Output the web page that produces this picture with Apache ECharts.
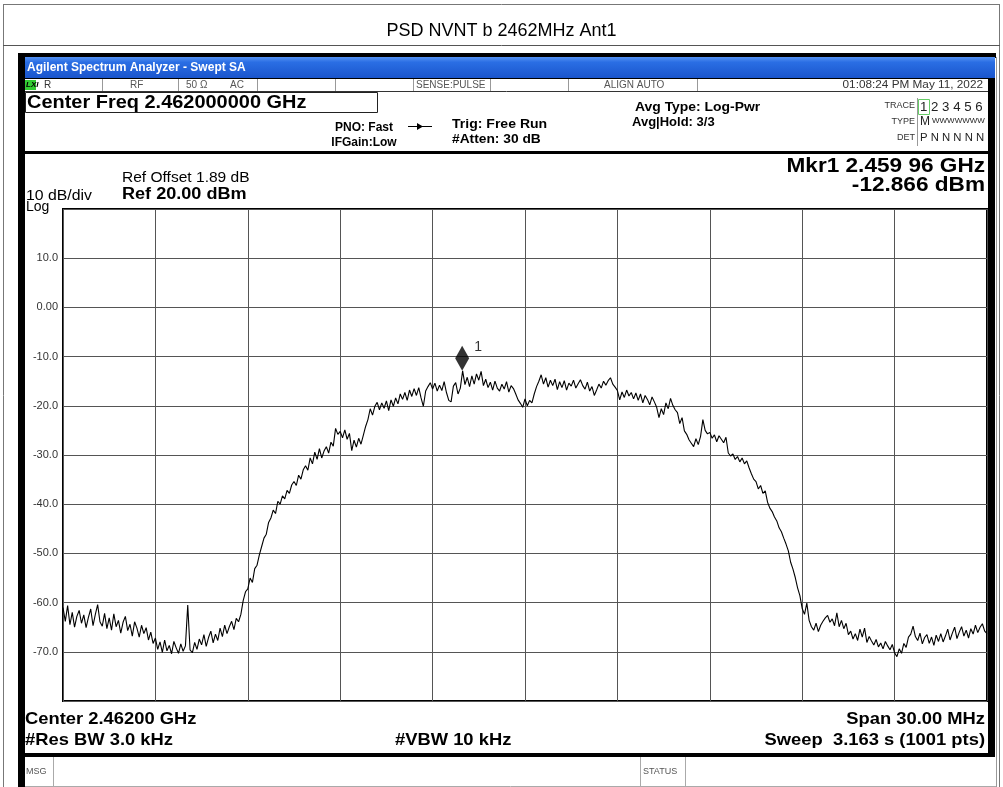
<!DOCTYPE html>
<html>
<head>
<meta charset="utf-8">
<title>PSD NVNT b 2462MHz Ant1</title>
<script src="https://cdn.jsdelivr.net/npm/echarts@6/dist/echarts.min.js"></script>
<style>
  html, body { margin: 0; padding: 0; background: #fff; }
  #chart { width: 1003px; height: 787px; }
</style>
</head>
<body>
<div id="chart"></div>
<script>
// sweep settings
const centerMHz = 2462
const spanMHz = 30
const stepMHz = 0.075   // 401 samples over the 30 MHz span

// y grid: ref level 20 dBm, 10 dB/div
const yTickValues = [20, 10, 0, -10, -20, -30, -40, -50, -60, -70, -80]
const yTickLabels = ['', '10.0', '0.00', '-10.0', '-20.0', '-30.0', '-40.0', '-50.0', '-60.0', '-70.0', '']

// trace 1 (dBm), left to right, 20 samples per row
const level = [
  -61.0, -63.8, -60.6, -64.5, -62.0, -65.0, -62.8, -61.6, -64.2, -62.5, -65.1, -63.0, -61.3, -64.7, -62.4, -60.4, -63.9, -64.8, -62.2, -65.3,
  -63.1, -65.6, -62.3, -64.9, -63.6, -66.2, -64.0, -62.8, -65.7, -64.4, -66.8, -63.9, -65.2, -67.0, -64.6, -66.3, -65.1, -67.6, -66.0, -68.3,
  -67.2, -69.5, -68.0, -70.1, -67.6, -69.8, -68.7, -70.4, -67.9, -69.2, -70.3, -68.4, -69.9, -68.8, -60.5, -69.6, -70.2, -68.1, -69.5, -67.4,
  -68.6, -66.5, -68.9, -67.1, -65.8, -68.2, -66.4, -67.7, -65.2, -66.9, -64.6, -66.3, -64.9, -63.8, -65.5, -63.2, -63.9, -62.4, -59.6, -57.8,
  -57.2, -55.0, -55.9, -53.1, -52.4, -50.3, -48.6, -46.9, -46.1, -43.7, -42.8, -41.2, -41.9, -39.4, -40.0, -38.3, -38.9, -37.2, -37.8, -36.1,
  -35.4, -36.2, -34.1, -34.9, -33.0, -32.2, -33.1, -30.6, -31.8, -29.4, -30.9, -28.7, -30.6, -29.2, -28.3, -29.6, -27.4, -28.2, -24.6, -25.8,
  -25.2, -26.5, -24.9, -26.8, -25.6, -29.1, -27.0, -28.4, -26.6, -27.8, -26.0, -24.2, -22.8, -20.6, -21.9, -20.1, -19.3, -20.8, -19.4, -20.5,
  -19.0, -21.0, -18.8, -20.1, -18.4, -19.6, -17.6, -18.7, -17.3, -18.9, -16.8, -18.1, -16.5, -17.9, -16.3, -18.4, -20.1, -17.0, -16.1, -15.3,
  -16.6, -15.4, -17.0, -15.8, -16.9, -15.1, -17.3, -18.9, -19.2, -16.0, -15.3, -17.6, -16.4, -12.9, -15.7, -14.2, -16.1, -13.9, -15.6, -13.5,
  -14.8, -13.0, -15.9, -14.6, -16.3, -15.2, -16.8, -15.0, -16.4, -17.0, -15.6, -16.6, -15.1, -17.2, -15.9, -16.5, -17.6, -18.8, -19.5, -20.3,
  -18.6, -20.0, -18.9, -19.4, -17.6, -16.1, -15.0, -13.7, -15.6, -14.3, -16.2, -14.8, -15.9, -14.6, -16.7, -15.1, -16.3, -14.9, -16.8, -15.4,
  -16.0, -14.8, -16.4, -15.5, -14.7, -15.9, -16.6, -15.2, -17.0, -16.1, -17.9, -16.8, -15.6, -16.4, -15.0, -15.8, -14.9, -14.3, -15.6, -16.2,
  -16.9, -18.8, -17.2, -18.3, -16.8, -18.0, -17.3, -18.6, -17.4, -18.9, -17.6, -19.4, -17.9, -18.7, -19.8, -18.2, -19.2, -20.3, -22.4, -20.6,
  -21.8, -19.4, -20.6, -18.5, -19.9, -20.8, -21.4, -23.6, -22.4, -25.1, -25.8, -26.9, -27.6, -28.3, -26.7, -27.9, -26.2, -22.8, -25.0, -25.7,
  -25.4, -26.6, -25.9, -27.3, -26.1, -26.8, -27.5, -26.4, -29.6, -30.2, -29.8, -30.9, -30.3, -31.4, -30.6, -31.8, -31.2, -32.6, -33.8, -34.9,
  -35.4, -36.9, -36.2, -37.8, -37.3, -39.6, -40.8, -41.5, -42.6, -43.4, -44.8, -45.6, -46.9, -48.1, -49.5, -51.8, -53.2, -54.9, -57.0, -58.6,
  -61.2, -62.4, -60.1, -63.6, -64.9, -65.6, -64.2, -65.9, -64.6, -63.8, -63.1, -62.6, -64.0, -63.3, -64.7, -62.1, -64.9, -63.6, -65.3, -64.2,
  -66.5, -65.8, -67.4, -66.3, -67.7, -65.4, -67.0, -65.2, -68.1, -66.9, -67.8, -68.6, -67.5, -69.0, -68.2, -69.4, -67.9, -68.8, -69.6, -68.5,
  -70.2, -71.0, -69.4, -70.3, -68.3, -69.1, -67.0, -66.4, -64.8, -66.9, -67.7, -66.2, -68.4, -67.1, -66.5, -68.3, -67.0, -68.7, -66.6, -67.9,
  -66.3, -68.0, -66.8, -65.4, -67.6, -66.2, -65.0, -67.3, -66.0, -64.9, -66.8, -65.6, -67.2, -65.3, -66.4, -64.6, -66.1, -65.0, -64.3, -65.8,
  -66.3
]

// marker 1
const markerMHz = 2459.96
const markerLevel = -12.866

const F = '"Liberation Sans", Arial, sans-serif'

// offset from center freq, in MHz
const points = level.map((v, i) => [-spanMHz / 2 + i * stepMHz, v])

function txt(x, y, text, size, opt = {}) {
  const a = opt.align || 'left'
  const el = {
    type: 'text', x, y, silent: true,
    style: {
      text,
      fill: opt.color || '#000',
      font: (opt.weight || 'normal') + ' ' + size + 'px ' + (opt.family || F),
      textAlign: a, align: a,
      textVerticalAlign: 'middle', verticalAlign: 'middle'
    }
  }
  if (opt.sx) el.scaleX = opt.sx
  return el
}
function box(x, y, w, h, fill, stroke) {
  return {
    type: 'rect', silent: true,
    shape: { x, y, width: w, height: h },
    style: { fill: fill || 'none', stroke: stroke || 'none', lineWidth: 1 }
  }
}
function seg(x1, y1, x2, y2, color) {
  return { type: 'line', silent: true, shape: { x1, y1, x2, y2 }, style: { stroke: color || '#000', lineWidth: 1 } }
}

const blue = new echarts.graphic.LinearGradient(0, 0, 0, 1, [
  { offset: 0, color: '#5592f2' },
  { offset: 0.25, color: '#2a6ee4' },
  { offset: 1, color: '#1a55cc' }
])

const chrome = [
  // page frame
  seg(3.5, 4, 3.5, 787, '#777'),
  seg(999.5, 4, 999.5, 787, '#777'),
  seg(3, 4.5, 1000, 4.5, '#777'),
  seg(3, 45.5, 1000, 45.5, '#555'),

  // instrument window
  box(18, 53, 978, 5, '#000'),
  box(18, 57, 977, 21, blue),
  box(18, 78, 977, 1, '#000'),
  box(18, 53, 7, 734, '#000'),
  box(988, 78, 7, 679, '#000'),
  box(18, 151, 977, 3, '#000'),
  box(18, 753, 977, 4, '#000'),
  seg(996.5, 57, 996.5, 787, '#999'),
  txt(27, 68, 'Agilent Spectrum Analyzer - Swept SA', 12, { color: '#fff', weight: 'bold' }),

  // status row
  seg(25, 91.5, 988, 91.5, '#333'),
  seg(102.5, 79, 102.5, 91, '#999'),
  seg(178.5, 79, 178.5, 91, '#999'),
  seg(257.5, 79, 257.5, 91, '#999'),
  seg(335.5, 79, 335.5, 91, '#999'),
  seg(413.5, 79, 413.5, 91, '#999'),
  seg(490.5, 79, 490.5, 91, '#999'),
  seg(568.5, 79, 568.5, 91, '#999'),
  seg(697.5, 79, 697.5, 91, '#999'),
  box(25, 80, 11, 10, '#33cc33'),
  txt(26, 85, 'LXI', 8, { weight: 'bold italic' }),
  txt(44, 85, 'R', 10, { color: '#333' }),
  txt(130, 85, 'RF', 10, { color: '#555' }),
  txt(186, 85, '50 Ω', 10, { color: '#555' }),
  txt(230, 85, 'AC', 10, { color: '#555' }),
  txt(416, 85, 'SENSE:PULSE', 10, { color: '#555' }),
  txt(604, 85, 'ALIGN AUTO', 10, { color: '#555' }),
  txt(983, 85, '01:08:24 PM May 11, 2022', 11, { color: '#333', align: 'right', sx: 1.07 }),

  // header
  box(25.5, 92.5, 352, 20, 'none', '#222'),
  txt(27, 103, 'Center Freq 2.462000000 GHz', 19, { weight: 'bold', sx: 1.05 }),
  txt(364, 128, 'PNO: Fast', 12, { weight: 'bold', align: 'center' }),
  txt(364, 143, 'IFGain:Low', 12, { weight: 'bold', align: 'center' }),
  seg(408, 126.5, 432, 126.5, '#000'),
  { type: 'polygon', silent: true, shape: { points: [[417, 123], [417, 130], [423, 126.5]] }, style: { fill: '#000' } },
  txt(452, 124, 'Trig: Free Run', 13, { weight: 'bold', sx: 1.08 }),
  txt(452, 139, '#Atten: 30 dB', 13, { weight: 'bold', sx: 1.06 }),
  txt(635, 107, 'Avg Type: Log-Pwr', 13, { weight: 'bold', sx: 1.07 }),
  txt(632, 122, 'Avg|Hold: 3/3', 13, { weight: 'bold' }),
  txt(915, 106, 'TRACE', 9, { color: '#333', align: 'right' }),
  txt(915, 122, 'TYPE', 9, { color: '#333', align: 'right' }),
  txt(915, 138, 'DET', 9, { color: '#333', align: 'right' }),
  seg(917.5, 98, 917.5, 146, '#999'),
  box(918.5, 99.5, 11, 15, 'none', '#66cc66'),
  txt(920, 107, '1 2 3 4 5 6', 13, { color: '#222', sx: 1.02 }),
  txt(920, 122, 'M', 12, { color: '#222' }),
  txt(932, 121, 'WWWWWWW', 8, { color: '#222', sx: 1.0 }),
  txt(920, 138, 'P N N N N N', 11, { color: '#222', sx: 1.03 }),

  // panel annotations
  txt(122, 178, 'Ref Offset 1.89 dB', 14, { sx: 1.11 }),
  txt(122, 195, 'Ref 20.00 dBm', 16, { weight: 'bold', sx: 1.13 }),
  txt(26, 196, '10 dB/div', 14, { sx: 1.13 }),
  txt(26, 207, 'Log', 14),
  txt(985, 166, 'Mkr1 2.459 96 GHz', 20, { weight: 'bold', align: 'right', sx: 1.13 }),
  txt(985, 185, '-12.866 dBm', 20, { weight: 'bold', align: 'right', sx: 1.13 }),
  txt(25, 719, 'Center 2.46200 GHz', 17, { weight: 'bold', sx: 1.08 }),
  txt(25, 740, '#Res BW 3.0 kHz', 17, { weight: 'bold', sx: 1.08 }),
  txt(395, 740, '#VBW 10 kHz', 17, { weight: 'bold', sx: 1.08 }),
  txt(985, 719, 'Span 30.00 MHz', 17, { weight: 'bold', align: 'right', sx: 1.08 }),
  txt(985, 740, 'Sweep  3.163 s (1001 pts)', 17, { weight: 'bold', align: 'right', sx: 1.08 }),

  // message row
  txt(26, 772, 'MSG', 9, { color: '#555' }),
  seg(53.5, 757, 53.5, 786, '#aaa'),
  txt(643, 772, 'STATUS', 9, { color: '#555' }),
  seg(640.5, 757, 640.5, 786, '#aaa'),
  seg(685.5, 757, 685.5, 786, '#aaa'),
  seg(25, 786.5, 996, 786.5, '#aaa')
]

const chart = echarts.init(document.getElementById('chart'))
chart.setOption({
  animation: false,
  backgroundColor: '#fff',
  title: {
    text: 'PSD NVNT b 2462MHz Ant1',
    left: 'center',
    top: 17,
    textStyle: { fontSize: 18, fontWeight: 'normal', color: '#000', fontFamily: F }
  },
  grid: {
    left: 63, top: 209, width: 924, height: 492,
    show: true, borderColor: '#000', borderWidth: 2
  },
  xAxis: {
    type: 'value',
    min: -spanMHz / 2,
    max: spanMHz / 2,
    interval: spanMHz / 10,
    axisLine: { show: false },
    axisTick: { show: false },
    axisLabel: { show: false },
    splitLine: { show: true, lineStyle: { color: '#555', width: 1 } }
  },
  yAxis: {
    type: 'value',
    min: -80,
    max: 20,
    interval: 10,
    axisLine: { show: false },
    axisTick: { show: false },
    axisLabel: {
      formatter: v => yTickLabels[yTickValues.indexOf(v)] || '',
      color: '#333',
      fontSize: 11,
      fontFamily: F,
      margin: 5
    },
    splitLine: { show: true, lineStyle: { color: '#555', width: 1 } }
  },
  series: [
    {
      type: 'line',
      data: points,
      symbol: 'none',
      lineStyle: { color: '#000', width: 1.1 }
    },
    {
      type: 'scatter',
      data: [[markerMHz - centerMHz, markerLevel]],
      symbol: 'diamond',
      symbolSize: [14, 25],
      symbolOffset: [0, '-50%'],
      itemStyle: { color: '#000' },
      label: {
        show: true,
        formatter: '1',
        position: 'right',
        offset: [0, -11],
        color: '#000',
        fontSize: 14,
        fontFamily: F
      }
    }
  ],
  graphic: chrome
})
</script>
</body>
</html>
